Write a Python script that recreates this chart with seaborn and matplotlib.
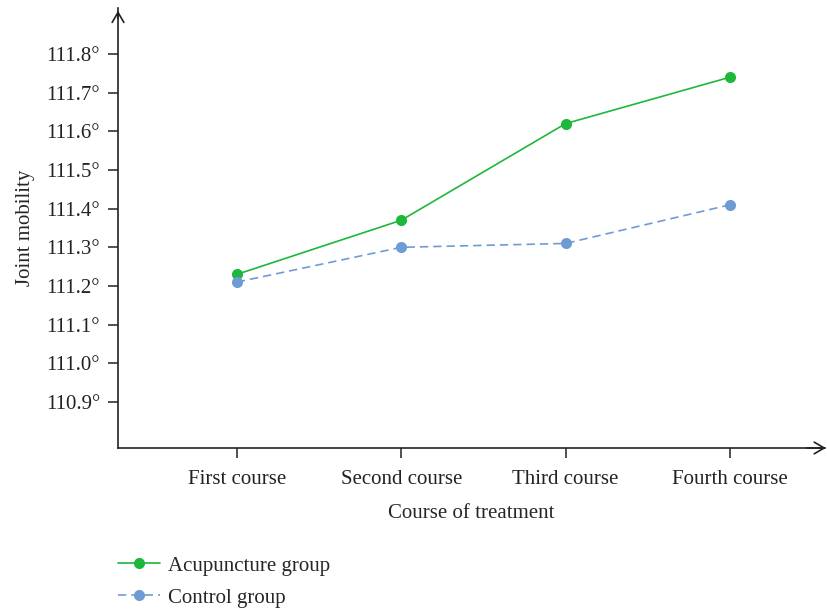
import matplotlib
matplotlib.use("Agg")
import matplotlib.pyplot as plt
import seaborn as sns
import pandas as pd
import numpy as np
from matplotlib.lines import Line2D

courses = ["First course", "Second course", "Third course", "Fourth course"]
acupuncture = [111.23, 111.37, 111.62, 111.74]
control = [111.21, 111.30, 111.31, 111.41]
yticks = [110.9, 111.0, 111.1, 111.2, 111.3, 111.4, 111.5, 111.6, 111.7, 111.8]

sns.set_theme(style="white")
plt.rcParams['font.family'] = ['Liberation Serif', 'DejaVu Serif']

df = pd.DataFrame({
    "pos": list(range(len(courses))) * 2,
    "value": acupuncture + control,
    "group": ["Acupuncture group"] * 4 + ["Control group"] * 4,
})

green = "#1db83a"
blue = "#6f9bd4"
fs = 15

fig = plt.figure(figsize=(8.27, 6.12), dpi=100)
ax = fig.add_axes([0.1427, 0.268, 0.855, 0.719])

sns.lineplot(data=df[df.group == "Acupuncture group"], x="pos", y="value", ax=ax,
             color=green, lw=1.2, marker="o", markersize=8, markeredgewidth=0, legend=False)
sns.lineplot(data=df[df.group == "Control group"], x="pos", y="value", ax=ax,
             color=blue, lw=1.2, marker="o", markersize=8, markeredgewidth=0, legend=False)
ax.lines[1].set_dashes([5, 3])

ax.set_xlim(-0.723, 3.578)
ax.set_ylim(110.781, 111.919)
ax.set_xticks(range(len(courses)))
ax.set_xticklabels(courses, fontsize=fs)
ax.set_yticks(yticks)
ax.set_yticklabels([f"{t:.1f}°" for t in yticks], fontsize=fs)
ax.set_xlabel("Course of treatment", fontsize=fs, labelpad=11)
ax.set_ylabel("Joint mobility", fontsize=fs, labelpad=8)

for s in ["top", "right"]:
    ax.spines[s].set_visible(False)
for s in ["left", "bottom"]:
    ax.spines[s].set_color("#222222")
    ax.spines[s].set_linewidth(1.2)
ax.tick_params(axis="both", direction="out", length=7, width=1.1, color="#222222",
               labelcolor="#222222", bottom=True, left=True)
ax.tick_params(axis="y", pad=6)
ax.tick_params(axis="x", pad=9)

# axis arrows
ax.annotate("", xy=(0, 1.0), xytext=(0, 0.97), xycoords="axes fraction",
            arrowprops=dict(arrowstyle="->,head_length=0.6,head_width=0.35", color="#222222", lw=1.2))
ax.annotate("", xy=(1.005, 0), xytext=(0.97, 0), xycoords="axes fraction",
            arrowprops=dict(arrowstyle="->,head_length=0.6,head_width=0.35", color="#222222", lw=1.2))

handles = [
    Line2D([0], [0], color=green, lw=1.2, marker="o", markersize=8, markeredgewidth=0),
    Line2D([0], [0], color=blue, lw=1.2, marker="o", markersize=8, markeredgewidth=0, dashes=[5, 3]),
]
fig.legend(handles, ["Acupuncture group", "Control group"], loc="upper left",
           bbox_to_anchor=(0.133, 0.105), frameon=False, fontsize=fs,
           handlelength=2.0, handletextpad=0.4, labelspacing=0.6, borderaxespad=0)

fig.savefig("out.png", dpi=100)
